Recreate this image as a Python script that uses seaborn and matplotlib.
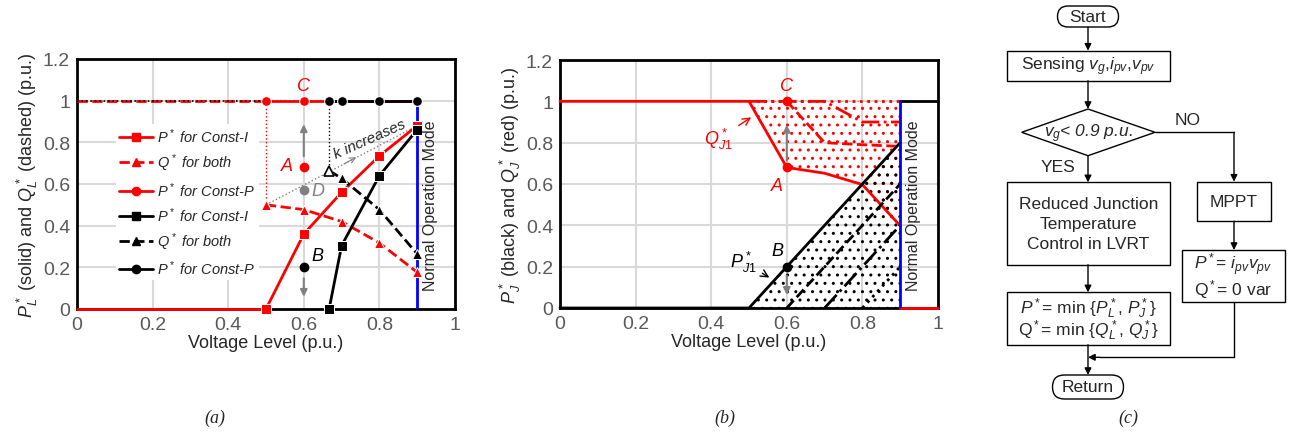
import numpy as np
import seaborn as sns
import matplotlib.pyplot as plt
from matplotlib.lines import Line2D
from matplotlib.patches import Rectangle, FancyBboxPatch, Polygon

sns.set_style("white")
plt.rcParams['font.family'] = ['Liberation Sans', 'DejaVu Sans']
plt.rcParams['mathtext.fontset'] = 'custom'
plt.rcParams['mathtext.rm'] = 'Liberation Sans'
plt.rcParams['mathtext.it'] = 'Liberation Sans:italic'
plt.rcParams['hatch.linewidth'] = 1.0

RED = '#ff0000'
BLUE = '#0000ff'
GREY = '#808080'

# ---- panel (a) data ----
volt_red = [0.5, 0.6, 0.7, 0.8, 0.9]
p_const_i_red = [0.0, 0.36, 0.56, 0.735, 0.88]
q_both_red = [0.5, 0.477, 0.42, 0.317, 0.176]
p_const_p_red = [1, 1, 1, 1, 1]

volt_black = [0.667, 0.7, 0.8, 0.9]
p_const_i_black = [0.0, 0.304, 0.64, 0.861]
q_both_black = [0.664, 0.627, 0.477, 0.264]
p_const_p_black = [1, 1, 1, 1]

# ---- panel (b) data ----
qj1_x = [0, 0.5, 0.6, 0.7, 0.8, 0.9]
qj1_y = [1, 1, 0.68, 0.652, 0.597, 0.398]
qj_dash_x = [0.6, 0.7, 0.8, 0.9]
qj_dash_y = [1, 0.8, 0.79, 0.782]
qj_dashdot_x = [0.5, 0.7, 0.8, 0.9]
qj_dashdot_y = [1, 1, 0.9, 0.9]
pj1_x = [0, 0.5, 0.9]
pj1_y = [0, 0, 0.8]
pj_dash_x, pj_dash_y = [0.6, 0.9], [0, 0.6]
pj_dashdot_x, pj_dashdot_y = [0.7, 0.9], [0, 0.4]
pj_dot_x, pj_dot_y = [0.8, 0.9], [0, 0.2]

fig = plt.figure(figsize=(12.99, 4.39), dpi=100)
W, H = 1299, 439
ax_a = fig.add_axes([77 / W, 1 - 310 / H, 378 / W, 250 / H])
ax_b = fig.add_axes([560 / W, 1 - 309 / H, 378 / W, 248 / H])


def style_axes(ax):
    ax.set_xlim(0, 1)
    ax.set_ylim(0, 1.2)
    ax.set_xticks(np.arange(0, 1.01, 0.2))
    ax.set_yticks(np.arange(0, 1.21, 0.2))
    ax.set_xticklabels(['0', '0.2', '0.4', '0.6', '0.8', '1'])
    ax.set_yticklabels(['0', '0.2', '0.4', '0.6', '0.8', '1', '1.2'])
    ax.grid(True, color='#d9d9d9', linewidth=1.5, zorder=0)
    ax.set_axisbelow(True)
    ax.tick_params(length=0, labelsize=14, labelcolor='#595959', pad=5)
    for s in ax.spines.values():
        s.set_linewidth(2)
        s.set_color('black')
    ax.set_xlabel('Voltage Level (p.u.)', fontsize=13, labelpad=1)


def line(ax, x, y, **kw):
    sns.lineplot(x=x, y=y, ax=ax, estimator=None, sort=False, zorder=3,
                 clip_on=False, **kw)


# ---------------- panel (a) ----------------
style_axes(ax_a)
ax_a.set_ylabel(r'$P^*_L$ (solid) and $Q^*_L$ (dashed) (p.u.)', fontsize=13, labelpad=2)

line(ax_a, [0, 0.5], [1, 1], color=RED, linestyle='--', linewidth=2)
line(ax_a, [0, 0.667], [1, 1], color='black', linestyle=':', linewidth=1.2)
line(ax_a, [0, 0.5], [0, 0], color=RED, linewidth=2)
line(ax_a, [0.5, 0.5], [1, 0.5], color=RED, linestyle=':', linewidth=1)
line(ax_a, [0.667, 0.667], [1, 0.667], color='black', linestyle=':', linewidth=1)
ax_a.plot([0.9, 0.9], [0, 1], color=BLUE, linewidth=2, zorder=3)

line(ax_a, volt_red, p_const_p_red, color=RED, marker='o', markersize=7, linewidth=2)
line(ax_a, volt_red, p_const_i_red, color=RED, marker='s', markersize=7, linewidth=2)
line(ax_a, volt_red, q_both_red, color=RED, marker='^', markersize=7, linewidth=2,
     linestyle='--')
line(ax_a, volt_black, p_const_p_black, color='black', marker='o', markersize=7, linewidth=2)
line(ax_a, volt_black, p_const_i_black, color='black', marker='s', markersize=7, linewidth=2)
line(ax_a, volt_black, q_both_black, color='black', marker='^', markersize=7, linewidth=2,
     linestyle='--')
# first black Q marker is hollow in the original
ax_a.plot(volt_black[:1], q_both_black[:1], '^', markersize=7, markerfacecolor='white',
          markeredgecolor='black', markeredgewidth=1.2, zorder=4)

# k increases
ax_a.plot([0.5, 0.9], [0.5, 0.88], color=GREY, linestyle=':', linewidth=1)
ax_a.annotate('', xy=(0.745, 0.735), xytext=(0.70, 0.69),
              arrowprops=dict(arrowstyle='->', color=GREY, lw=0.8))
ax_a.text(0.775, 0.818, 'k increases', fontsize=11, style='italic',
          rotation=24, ha='center', va='center')

# A, B, C, D
ax_a.plot([0.6], [0.68], 'o', color=RED, markersize=6)
ax_a.text(0.555, 0.69, 'A', color=RED, fontsize=13, style='italic', ha='center', va='center')
ax_a.text(0.6, 1.075, 'C', color=RED, fontsize=13, style='italic', ha='center', va='center')
ax_a.plot([0.6], [0.57], 'o', color=GREY, markersize=6)
ax_a.text(0.638, 0.57, 'D', color=GREY, fontsize=13, style='italic', ha='center', va='center')
ax_a.plot([0.6], [0.2], 'o', color='black', markersize=6)
ax_a.text(0.637, 0.255, 'B', color='black', fontsize=13, style='italic', ha='center', va='center')
ax_a.annotate('', xy=(0.6, 0.9), xytext=(0.6, 0.72),
              arrowprops=dict(arrowstyle='-|>', color=GREY, lw=1.5))
ax_a.annotate('', xy=(0.6, 0.045), xytext=(0.6, 0.16),
              arrowprops=dict(arrowstyle='-|>', color=GREY, lw=1.5))

ax_a.text(0.934, 0.5, 'Normal Operation Mode', rotation=90, fontsize=11.5,
          ha='center', va='center')

handles = [
    Line2D([], [], color=RED, marker='s', markersize=6, linewidth=2),
    Line2D([], [], color=RED, marker='^', markersize=6, linewidth=2, linestyle='--'),
    Line2D([], [], color=RED, marker='o', markersize=6, linewidth=2),
    Line2D([], [], color='black', marker='s', markersize=6, linewidth=2),
    Line2D([], [], color='black', marker='^', markersize=6, linewidth=2, linestyle='--'),
    Line2D([], [], color='black', marker='o', markersize=6, linewidth=2),
]
labels = [r'$P^*$ for Const-$I$', r'$Q^*$ for both', r'$P^*$ for Const-$P$'] * 2
leg = ax_a.legend(handles, labels, loc='upper left', bbox_to_anchor=(0.085, 0.77),
                  frameon=True, fancybox=False, edgecolor='none', facecolor='white',
                  framealpha=1, handlelength=2.3, labelspacing=0.45,
                  borderpad=0.2, handletextpad=0.3, prop={'style': 'italic', 'size': 10.5})
leg.set_zorder(2.5)

# ---------------- panel (b) ----------------
style_axes(ax_b)
ax_b.set_ylabel(r'$P^*_J$ (black) and $Q^*_J$ (red) (p.u.)', fontsize=13, labelpad=2)

ax_b.fill_between(qj1_x[1:], qj1_y[1:], 1, facecolor='none', edgecolor=RED,
                  hatch='..', linewidth=0, zorder=1)
ax_b.fill_between(pj1_x[1:], pj1_y[1:], 0, facecolor='none', edgecolor='black',
                  hatch='..', linewidth=0, zorder=1)

line(ax_b, [0.5, 0.9], [1, 1], color=RED, linestyle=':', linewidth=2)
line(ax_b, qj_dashdot_x, qj_dashdot_y, color=RED, linestyle='-.', linewidth=2)
line(ax_b, qj_dash_x, qj_dash_y, color=RED, linestyle='--', linewidth=2)
line(ax_b, qj1_x, qj1_y, color=RED, linewidth=2)
line(ax_b, [0.9, 1], [0, 0], color=RED, linewidth=2)

line(ax_b, pj_dot_x, pj_dot_y, color='black', linestyle=':', linewidth=2)
line(ax_b, pj_dashdot_x, pj_dashdot_y, color='black', linestyle='-.', linewidth=2)
line(ax_b, pj_dash_x, pj_dash_y, color='black', linestyle='--', linewidth=2)
line(ax_b, pj1_x, pj1_y, color='black', linewidth=2)
line(ax_b, [0.9, 1], [1, 1], color='black', linewidth=2)
ax_b.plot([0.9, 0.9], [0, 1], color=BLUE, linewidth=2, zorder=3)

ax_b.plot([0.6], [1], 'o', color=RED, markersize=6, zorder=4)
ax_b.plot([0.6], [0.68], 'o', color=RED, markersize=6, zorder=4)
ax_b.plot([0.6], [0.2], 'o', color='black', markersize=6, zorder=4)
ax_b.text(0.6, 1.075, 'C', color=RED, fontsize=13, style='italic', ha='center', va='center')
ax_b.text(0.575, 0.595, 'A', color=RED, fontsize=13, style='italic', ha='center', va='center')
ax_b.text(0.575, 0.28, 'B', color='black', fontsize=13, style='italic', ha='center', va='center')
ax_b.annotate('', xy=(0.6, 0.9), xytext=(0.6, 0.7),
              arrowprops=dict(arrowstyle='-|>', color=GREY, lw=1.5))
ax_b.annotate('', xy=(0.6, 0.05), xytext=(0.6, 0.17),
              arrowprops=dict(arrowstyle='-|>', color=GREY, lw=1.5))
ax_b.annotate(r'$Q^*_{J1}$', xy=(0.512, 0.93), xytext=(0.42, 0.82), color=RED,
              fontsize=13, ha='center', va='center',
              arrowprops=dict(arrowstyle='->', color=RED, lw=1))
ax_b.annotate(r'$P^*_{J1}$', xy=(0.56, 0.14), xytext=(0.485, 0.225), color='black',
              fontsize=13, ha='center', va='center',
              arrowprops=dict(arrowstyle='->', color='black', lw=1))
ax_b.text(0.934, 0.5, 'Normal Operation Mode', rotation=90, fontsize=11.5,
          ha='center', va='center')

# ---------------- panel (c): flowchart ----------------
ax_c = fig.add_axes([980 / W, 0, 319 / W, 1])
ax_c.set_xlim(980, 1299)
ax_c.set_ylim(439, 0)
ax_c.axis('off')

FS = 12.5


def box(x0, y0, x1, y1, lines, fs=FS, step=20):
    ax_c.add_patch(Rectangle((x0, y0), x1 - x0, y1 - y0, facecolor='white',
                             edgecolor='black', linewidth=1))
    cy = (y0 + y1) / 2
    n = len(lines)
    for i, t in enumerate(lines):
        ax_c.text((x0 + x1) / 2, cy + (i - (n - 1) / 2) * step, t, fontsize=fs,
                  ha='center', va='center')


def terminal(cx, cy, w, h, label):
    ax_c.add_patch(FancyBboxPatch((cx - w / 2, cy - h / 2), w, h,
                                  boxstyle='round,pad=0,rounding_size=%f' % (h / 2),
                                  facecolor='white', edgecolor='black', linewidth=1))
    ax_c.text(cx, cy, label, fontsize=FS, ha='center', va='center')


def arrow(x0, y0, x1, y1):
    ax_c.annotate('', xy=(x1, y1), xytext=(x0, y0),
                  arrowprops=dict(arrowstyle='-|>', color='black', lw=1,
                                  mutation_scale=10, shrinkA=0, shrinkB=0))


cx = 1088
terminal(cx, 17.5, 61, 21, 'Start')
arrow(cx, 28, cx, 51.7)
box(1006.7, 51.7, 1170, 81.7, [r'Sensing $v_g$,$i_{pv}$,$v_{pv}$'])
arrow(cx, 81.7, cx, 110)
ax_c.add_patch(Polygon([(1021.7, 133.3), (cx, 110), (1155, 133.3), (cx, 156.7)],
                       closed=True, facecolor='white', edgecolor='black', linewidth=1))
ax_c.text(cx, 133.3, r'$v_g$< 0.9 p.u.', fontsize=FS, style='italic',
          ha='center', va='center')
ax_c.text(1188, 121, 'NO', fontsize=FS, ha='center', va='center')
ax_c.text(1058, 168, 'YES', fontsize=FS, ha='center', va='center')
arrow(cx, 156.7, cx, 183.3)
ax_c.plot([1155, 1234], [133.3, 133.3], color='black', linewidth=1)
arrow(1234, 133.3, 1234, 182.7)
box(1006.7, 183.3, 1170, 265.7, ['Reduced Junction', 'Temperature', 'Control in LVRT'])
box(1196.7, 182.7, 1270.7, 222.3, ['MPPT'])
arrow(1234, 222.3, 1234, 251)
box(1182, 251, 1285, 303.3, [r'$P^*$= $i_{pv}v_{pv}$', r'Q$^*$= 0 var'], step=24)
arrow(cx, 265.7, cx, 293.3)
box(1006.7, 293.3, 1170, 345.7, [r'$P^*$= min {$P^*_L$, $P^*_J$}',
                                 r'Q$^*$= min {$Q^*_L$, $Q^*_J$}'], step=22)
arrow(cx, 345.7, cx, 376)
ax_c.plot([1234, 1234, 1100], [303.3, 358.3, 358.3], color='black', linewidth=1)
arrow(1100, 358.3, cx, 358.3)
terminal(cx, 388, 71, 24, 'Return')

for x, lab in [(215 / W, '(a)'), (725 / W, '(b)'), (1128 / W, '(c)')]:
    fig.text(x, 1 - 418 / H, lab, fontsize=13, style='italic',
             family='Liberation Serif', ha='center', va='center')

fig.savefig('out.png', dpi=100)
